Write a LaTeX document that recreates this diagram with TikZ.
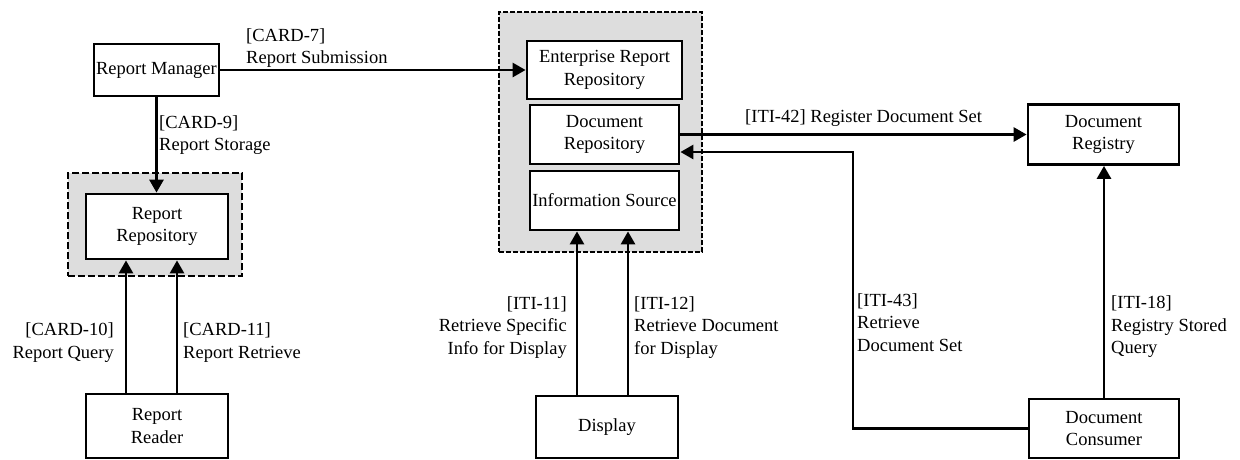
\documentclass[tikz,border=0pt]{standalone}
\usepackage{fontspec}
\setmainfont{Liberation Serif}
\usetikzlibrary{arrows.meta}
\definecolor{groupgray}{RGB}{221,221,221}

\tikzset{
  actor/.style={draw, fill=white, line width=2.8pt, align=center, inner sep=0pt},
  group/.style={draw, fill=groupgray, inner sep=0pt},
  flow/.style={->, line width=2.8pt},
  lbl/.style={inner sep=0pt},
}

\begin{document}
\begin{tikzpicture}[x=1pt, y=-1pt, >={Triangle[length=13pt,width=14pt]},
    font=\fontsize{18.5pt}{22.5pt}\selectfont]
        \useasboundingbox (0,0) rectangle (1240,459);
        \path
        % grouped actors
        +(155,224.5)  node[group, line width=2.4pt, dash pattern=on 7pt off 3pt, minimum width=174pt, minimum height=103pt] (leftgrp) {}
        +(600.5,132)  node[group, line width=1.3pt, dash pattern=on 5pt off 2pt, minimum width=203pt, minimum height=240pt] (midgrp) {}
        % left column
        +(156.5,70)   node[actor, minimum width=125pt, minimum height=52pt] (manager) {Report Manager}
        +(157,226.5)  node[actor, minimum width=142pt, minimum height=65pt] (rrepo) {Report\\Repository}
        +(157,426)    node[actor, minimum width=142pt, minimum height=64pt] (reader) {Report\\Reader}
        % middle column
        +(604.5,70)   node[actor, minimum width=155pt, minimum height=58pt] (err) {Enterprise Report\\Repository}
        +(604.5,134.5) node[actor, minimum width=149pt, minimum height=59pt] (drepo) {Document\\Repository}
        +(604.5,200.5) node[actor, minimum width=149pt, minimum height=59pt] (isrc) {Information Source}
        +(607,427)    node[actor, minimum width=142pt, minimum height=62pt] (display) {Display}
        % right column
        +(1103.5,134.5) node[actor, minimum width=151pt, minimum height=60pt] (dreg) {Document\\Registry}
        +(1104,428.5) node[actor, minimum width=150pt, minimum height=59pt] (dcons) {Document\\Consumer};

        \coordinate (bend) at (853,428.5);

        \draw[flow] (manager) -- (err);
        \draw[flow] (manager.south) -- (manager.south |- rrepo.north);
        \draw[flow] ([xshift=-31pt]reader.north) -- ([xshift=-31pt]reader.north |- rrepo.south);
        \draw[flow] ([xshift=20pt]reader.north) -- ([xshift=20pt]reader.north |- rrepo.south);
        \draw[flow] ([xshift=-30pt]display.north) -- ([xshift=-30pt]display.north |- isrc.south);
        \draw[flow] ([xshift=21pt]display.north) -- ([xshift=21pt]display.north |- isrc.south);
        \draw[flow] (drepo.east) -- (dreg.west);
        \draw[flow] (dcons.west) -- (bend) |- ([yshift=-17.5pt]drepo.east);
        \draw[flow] (dcons.north) -- (dcons.north |- dreg.south);

        % interface labels
        \node[lbl, anchor=west, align=left] (l7) at (246,48) {[CARD-7]\\Report Submission};
        \node[lbl, anchor=west, align=left] (l9) at (159,135) {[CARD-9]\\Report Storage};
        \node[lbl, anchor=east, align=right] (l10) at (114,342.5) {[CARD-10]\\Report Query};
        \node[lbl, anchor=west, align=left] (l11) at (183,342.5) {[CARD-11]\\Report Retrieve};
        \node[lbl, anchor=west] (i42) at (745,118) {[ITI-42] Register Document Set};
        \node[lbl, anchor=east, align=right] (i11) at (567,327.5) {[ITI-11]\\Retrieve Specific\\Info for Display};
        \node[lbl, anchor=west, align=left] (i12) at (634,327.5) {[ITI-12]\\Retrieve Document\\for Display};
        \node[lbl, anchor=west, align=left] (i43) at (857,322.5) {[ITI-43]\\Retrieve\\Document Set};
        \node[lbl, anchor=west, align=left] (i18) at (1111,327) {[ITI-18]\\Registry Stored\\Query};
    \end{tikzpicture}
\end{document}
